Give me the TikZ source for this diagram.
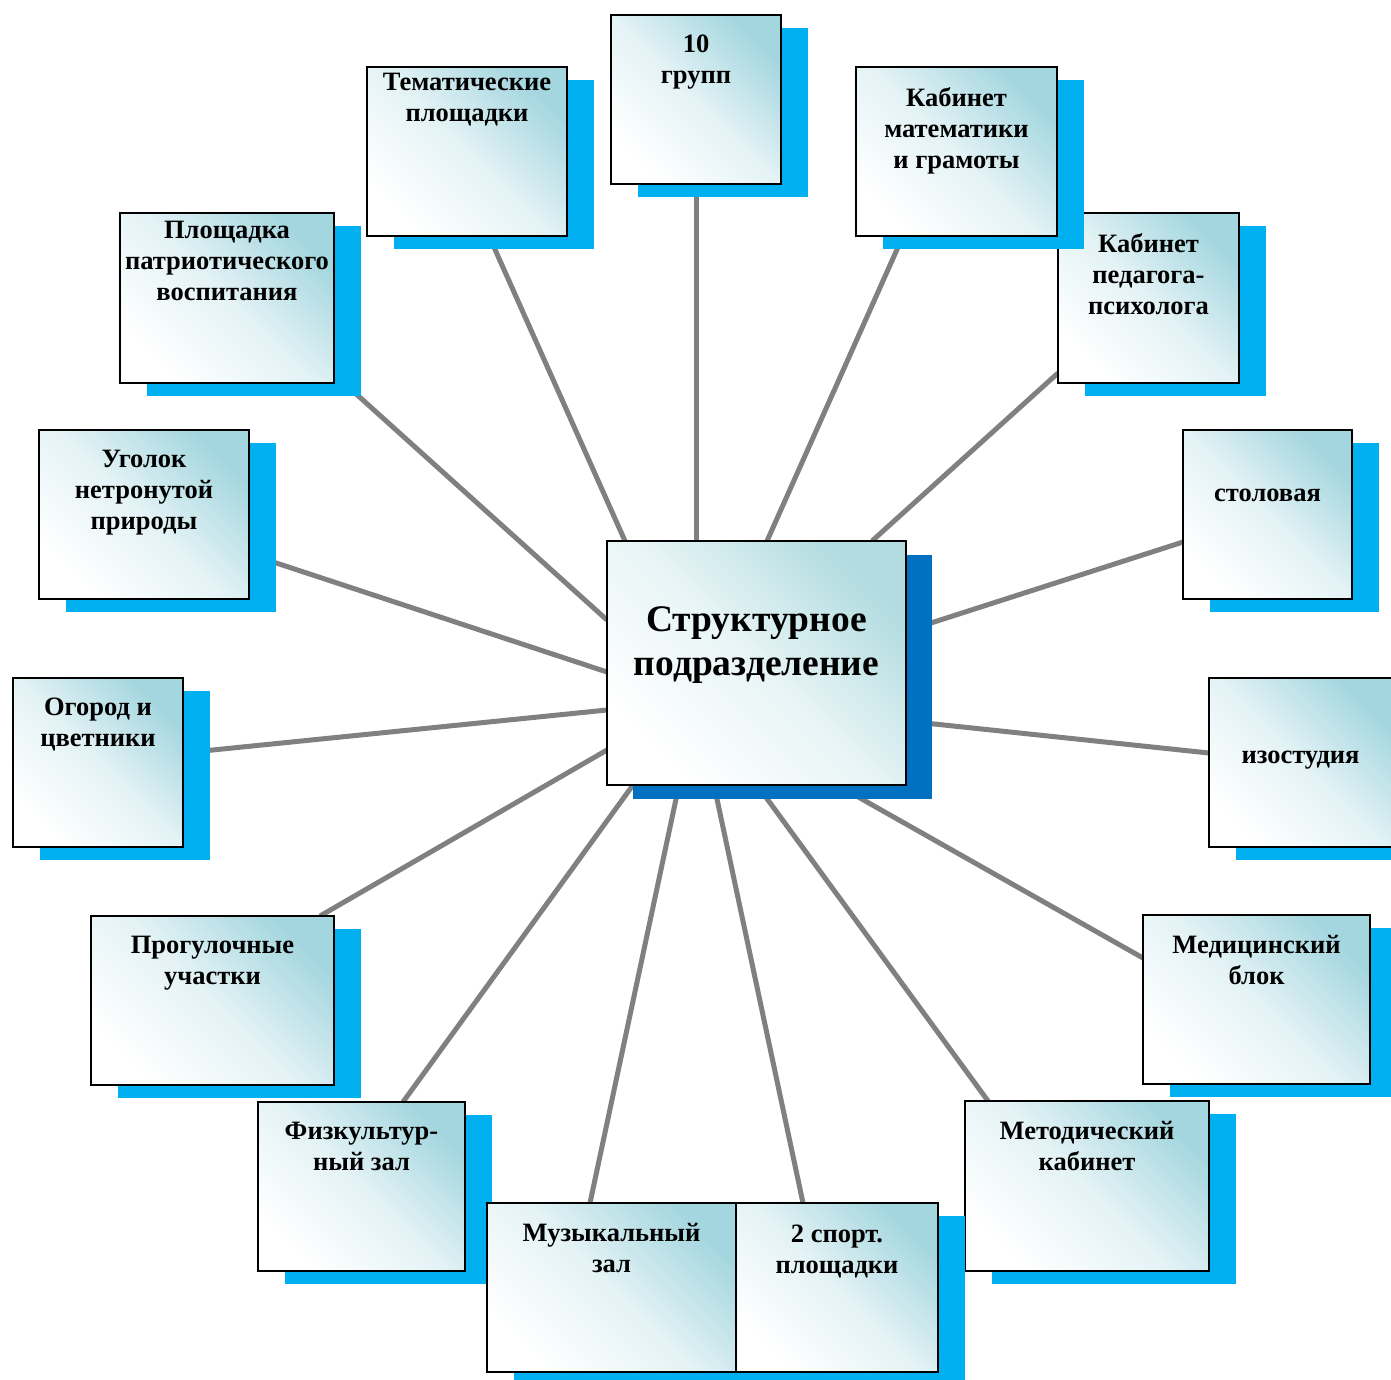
\documentclass[tikz,border=0pt]{standalone}
\usepackage{fontspec}
\setmainfont{Liberation Serif}
\usetikzlibrary{positioning,shadows,backgrounds}
\definecolor{boxteal}{HTML}{A4D6DF}
\definecolor{hubteal}{HTML}{B2DCE0}
\definecolor{shadeblue}{HTML}{00B0F0}
\definecolor{hubblue}{HTML}{0070C0}
\definecolor{spokegray}{HTML}{808080}

\tikzset{
 panel/.style={draw=black, line width=1.8pt, anchor=north west, inner sep=0pt, outer sep=0pt},
 unit/.style={panel, bottom color=white, top color=boxteal, middle color=boxteal!30, shading angle=-45,
   drop shadow={shadow xshift=27pt, shadow yshift=-13pt, fill=shadeblue, opacity=1}},
 hub/.style={panel, bottom color=white, top color=hubteal, middle color=hubteal!30, shading angle=-45,
   drop shadow={shadow xshift=26pt, shadow yshift=-14pt, fill=hubblue, opacity=1}},
 caption/.style={inner sep=0pt, align=center, font=\bfseries\fontsize{26.5}{31}\selectfont},
 bigcaption/.style={inner sep=0pt, align=center, font=\bfseries\fontsize{37.5}{44}\selectfont},
 spoke/.style={draw=spokegray, line width=5pt}
}

\begin{document}
\begin{tikzpicture}[x=1pt, y=-1pt]
 \useasboundingbox (0,0) rectangle (1391,1379);

 % centre
 \node[hub, minimum width=299, minimum height=244] (hub) at (607,541) {};
 \node[bigcaption, below=65pt of hub.north] (hub-t) {Структурное\\подразделение};

 % top row
 \node[unit, minimum width=170, minimum height=169] (grp) at (611,15) {};
 \node[caption, below=20pt of grp.north] (grp-t) {10\\групп};
 \node[unit, minimum width=200, minimum height=169] (tem) at (367,67) {};
 \node[caption, below=6pt of tem.north] (tem-t) {Тематические\\площадки};
 \node[unit, minimum width=181, minimum height=170] (kped) at (1058,213) {};
 \node[caption, below=20pt of kped.north] (kped-t) {Кабинет\\педагога-\\психолога};
 \node[unit, minimum width=201, minimum height=169] (kmat) at (856,67) {};
 \node[caption, below=20pt of kmat.north] (kmat-t) {Кабинет\\математики\\и грамоты};
 \node[unit, minimum width=214, minimum height=170] (patr) at (120,213) {};
 \node[caption, below=8pt of patr.north] (patr-t) {Площадка\\патриотического\\воспитания};

 % sides
 \node[unit, minimum width=210, minimum height=169] (ugol) at (39,430) {};
 \node[caption, below=20pt of ugol.north] (ugol-t) {Уголок\\нетронутой\\природы};
 \node[unit, minimum width=169, minimum height=169] (stol) at (1183,430) {};
 \node[caption, below=59pt of stol.north] (stol-t) {столовая};
 \node[unit, minimum width=170, minimum height=169] (ogor) at (13,678) {};
 \node[caption, below=20pt of ogor.north] (ogor-t) {Огород и\\цветники};
 \node[unit, minimum width=183, minimum height=169] (izo) at (1209,678) {};
 \node[caption, below=73pt of izo.north] (izo-t) {изостудия};

 % bottom row
 \node[unit, minimum width=243, minimum height=169] (prog) at (91,916) {};
 \node[caption, below=20pt of prog.north] (prog-t) {Прогулочные\\участки};
 \node[unit, minimum width=227, minimum height=169] (med) at (1143,915) {};
 \node[caption, below=20pt of med.north] (med-t) {Медицинский\\блок};
 \node[unit, minimum width=207, minimum height=169] (fiz) at (258,1102) {};
 \node[caption, below=20pt of fiz.north] (fiz-t) {Физкультур-\\ный зал};
 \node[unit, minimum width=244, minimum height=170] (met) at (965,1101) {};
 \node[caption, below=20pt of met.north] (met-t) {Методический\\кабинет};
 \node[unit, minimum width=249, minimum height=169] (muz) at (487,1203) {};
 \node[caption, below=20pt of muz.north] (muz-t) {Музыкальный\\зал};
 \node[unit, minimum width=202, minimum height=169] (sport) at (736,1203) {};
 \node[caption, below=22pt of sport.north] (sport-t) {2 спорт.\\площадки};

 %%%%%%%%%%%%%%%%%%%%%%%%%%%%%%%%%%%
 \begin{scope}[on background layer]
 \draw[spoke] (grp.south |- hub.north) -- (grp.south);
 \draw[spoke] ([xshift=18pt]hub.north west) -- ([xshift=122pt]tem.south west);
 \draw[spoke] ([xshift=160pt]hub.north west) -- ([xshift=47pt]kmat.south west);
 \draw[spoke] ([yshift=-79pt]hub.north west) -- ([yshift=9pt]patr.south east);
 \draw[spoke] ([xshift=265pt]hub.north west) -- ([yshift=10pt]kped.south west);
 \draw[spoke] ([yshift=-131pt]hub.north west) -- ([yshift=45pt]ugol.south east);
 \draw[spoke] ([yshift=-90pt]hub.north east) -- ([yshift=-112pt]stol.north west);
 \draw[spoke] ([yshift=-169pt]hub.north west) -- ([yshift=-75pt]ogor.north east);
 \draw[spoke] ([yshift=-180pt]hub.north east) -- ([yshift=-75pt]izo.north west);
 \draw[spoke] ([yshift=-209pt]hub.north west) -- ([xshift=-14pt]prog.north east);
 \draw[spoke] ([xshift=230pt]hub.south west) -- ([yshift=-43pt]med.north west);
 \draw[spoke] ([xshift=26pt]hub.south west) -- ([xshift=145pt]fiz.north west);
 \draw[spoke] ([xshift=150pt]hub.south west) -- ([xshift=23pt]met.north west);
 \draw[spoke] ([xshift=72pt]hub.south west) -- ([xshift=103pt]muz.north west);
 \draw[spoke] ([xshift=107pt]hub.south west) -- ([xshift=67pt]sport.north west);
 \end{scope}
\end{tikzpicture}
\end{document}
